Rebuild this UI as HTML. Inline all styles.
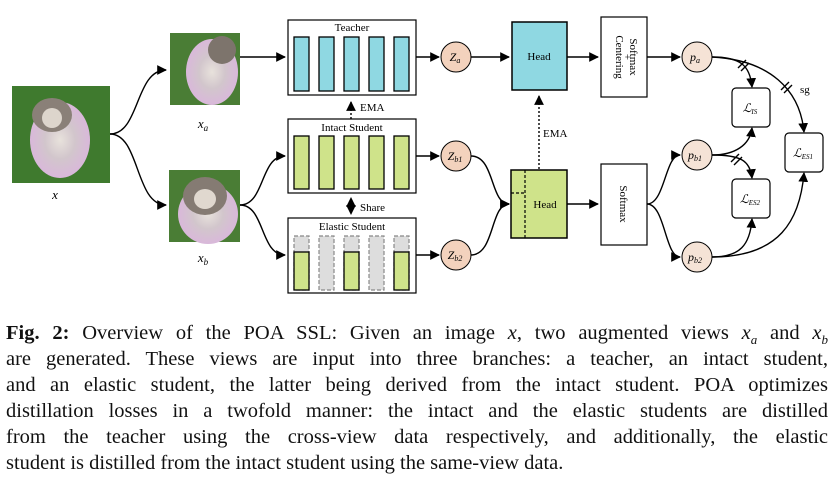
<!DOCTYPE html>
<html><head><meta charset="utf-8"><style>
body{margin:0;background:#fff;width:838px;height:480px;overflow:hidden;position:relative}
svg{position:absolute;left:0;top:0}
.cap{position:absolute;left:6px;width:822px;font-family:"Liberation Serif",serif;font-size:20.5px;color:#111;white-space:nowrap;text-align:justify;text-align-last:justify;line-height:26px}
.cap.last{text-align-last:left}
</style></head><body>
<svg width="838" height="310" viewBox="0 0 838 310" font-family="Liberation Serif, serif">
<defs>
<marker id="a" viewBox="0 0 10 10" refX="9" refY="5" markerWidth="7" markerHeight="7" orient="auto"><path d="M0,0L10,5L0,10z" fill="#000"/></marker>
<radialGradient id="dog"><stop offset="0" stop-color="#e8e2dc"/><stop offset="0.5" stop-color="#d2c6cc"/><stop offset="1" stop-color="#d9b8da"/></radialGradient>
</defs>
<rect x="12" y="86" width="98" height="97" fill="#3f7a2e"/>
<ellipse cx="60" cy="140" rx="30" ry="38" fill="url(#dog)"/>
<ellipse cx="52" cy="115" rx="20" ry="17" fill="#8a8078"/>
<ellipse cx="52" cy="118" rx="10" ry="10" fill="#ddd5cc"/>
<rect x="170" y="33" width="70" height="72" fill="#4a7d35"/>
<ellipse cx="212" cy="72" rx="26" ry="33" fill="url(#dog)"/>
<ellipse cx="222" cy="50" rx="14" ry="14" fill="#7d746c"/>
<rect x="169" y="170" width="71" height="72" fill="#4a7d35"/>
<ellipse cx="208" cy="214" rx="30" ry="30" fill="url(#dog)"/>
<ellipse cx="205" cy="196" rx="22" ry="19" fill="#857b73"/>
<ellipse cx="205" cy="199" rx="11" ry="10" fill="#e0d8cf"/>
<g font-style="italic" font-size="13" text-anchor="middle">
<text x="55" y="199">x</text><text x="203" y="128">x<tspan font-size="9" dy="3">a</tspan></text><text x="203" y="262">x<tspan font-size="9" dy="3">b</tspan></text></g>
<g fill="none" stroke="#000" stroke-width="1.4">
<path d="M110,134 C140,134 135,70 166,70" marker-end="url(#a)"/>
<path d="M110,134 C140,134 135,205 166,205" marker-end="url(#a)"/>
<path d="M240,57 L285,57" marker-end="url(#a)"/>
<path d="M240,205 C265,205 260,156 285,156" marker-end="url(#a)"/>
<path d="M240,205 C265,205 260,255 285,255" marker-end="url(#a)"/>
</g>
<g stroke="#000" stroke-width="1.2" fill="#fff">
<rect x="288" y="20" width="128" height="75"/>
<rect x="288" y="119" width="128" height="74"/>
<rect x="288" y="218" width="128" height="75"/>
</g>
<g font-size="11" text-anchor="middle"><text x="352" y="31">Teacher</text><text x="352" y="131">Intact Student</text><text x="352" y="230">Elastic Student</text></g>
<g stroke="#000" stroke-width="1.3" fill="#8fd8e2">
<rect x="294" y="37" width="15" height="54"/><rect x="319" y="37" width="15" height="54"/><rect x="344" y="37" width="15" height="54"/><rect x="369" y="37" width="15" height="54"/><rect x="394" y="37" width="15" height="54"/>
</g>
<g stroke="#000" stroke-width="1.3" fill="#cfe38a">
<rect x="294" y="136" width="15" height="53"/><rect x="319" y="136" width="15" height="53"/><rect x="344" y="136" width="15" height="53"/><rect x="369" y="136" width="15" height="53"/><rect x="394" y="136" width="15" height="53"/>
</g>
<g stroke="#888" stroke-width="1.2" stroke-dasharray="4,2" fill="#ddd">
<rect x="294" y="236" width="15" height="54"/><rect x="319" y="236" width="15" height="54"/><rect x="344" y="236" width="15" height="54"/><rect x="369" y="236" width="15" height="54"/><rect x="394" y="236" width="15" height="54"/>
</g>
<g stroke="#000" stroke-width="1.3" fill="#cfe38a">
<rect x="294" y="252" width="15" height="38"/><rect x="344" y="252" width="15" height="38"/><rect x="394" y="252" width="15" height="38"/>
</g>
<g stroke="#000" stroke-width="1.4" stroke-dasharray="2,2" fill="none">
<path d="M351,119 L351,102" marker-end="url(#a)"/>
<path d="M351,209 L351,198" marker-end="url(#a)"/>
<path d="M351,203 L351,214" marker-end="url(#a)"/>
<path d="M539,169 L539,96" marker-end="url(#a)"/>
</g>
<g font-size="11"><text x="360" y="111">EMA</text><text x="360" y="211">Share</text><text x="543" y="137">EMA</text></g>
<g fill="none" stroke="#000" stroke-width="1.4">
<path d="M416,57 L439,57" marker-end="url(#a)"/>
<path d="M416,156 L439,156" marker-end="url(#a)"/>
<path d="M416,255 L439,255" marker-end="url(#a)"/>
<path d="M471,57 L509,57" marker-end="url(#a)"/>
<path d="M471,156 C495,156 490,204 509,204" marker-end="url(#a)"/>
<path d="M471,255 C495,255 490,204 509,204" marker-end="url(#a)"/>
<path d="M567,57 L598,57" marker-end="url(#a)"/>
<path d="M567,204 L598,204" marker-end="url(#a)"/>
<path d="M647,57 L680,57" marker-end="url(#a)"/>
<path d="M647,204 C665,204 665,155 680,155" marker-end="url(#a)"/>
<path d="M647,204 C665,204 665,257 680,257" marker-end="url(#a)"/>
<path d="M712,57 C740,57 750,65 752,87" marker-end="url(#a)"/>
<path d="M712,57 C770,60 800,90 804,132" marker-end="url(#a)"/>
<path d="M712,155 C735,155 750,145 752,128" marker-end="url(#a)"/>
<path d="M712,155 C740,155 750,160 752,178" marker-end="url(#a)"/>
<path d="M712,257 C740,257 750,245 752,219" marker-end="url(#a)"/>
<path d="M712,257 C780,257 800,220 804,173" marker-end="url(#a)"/>
<path d="M738,68 l8,-8 M741,71 l8,-8 M781,90 l8,-8 M784,93 l8,-8 M731,162 l8,-8 M734,165 l8,-8"/>
</g>
<text x="800" y="93" font-size="11">sg</text>
<g stroke="#000" stroke-width="1" fill="#f3d2bd">
<circle cx="456" cy="57" r="15"/><circle cx="456" cy="156" r="15"/><circle cx="456" cy="255" r="15"/>
</g>
<g font-style="italic" font-size="12" text-anchor="middle"><text x="455" y="61">Z<tspan font-size="8" dy="2">a</tspan></text><text x="455" y="160">Z<tspan font-size="8" dy="2">b1</tspan></text><text x="455" y="259">Z<tspan font-size="8" dy="2">b2</tspan></text></g>
<rect x="512" y="22" width="55" height="68" fill="#8fd8e2" stroke="#000" stroke-width="1.5"/>
<text x="539" y="60" font-size="11" text-anchor="middle">Head</text>
<rect x="511" y="170" width="56" height="68" fill="#cfe38a" stroke="#000" stroke-width="1.5"/>
<path d="M525,170 L525,238 M511,193 L525,193" stroke="#000" stroke-width="1.2" stroke-dasharray="3,2"/>
<text x="545" y="208" font-size="11" text-anchor="middle">Head</text>
<g stroke="#000" stroke-width="1.2" fill="#fff"><rect x="601" y="17" width="46" height="80"/><rect x="601" y="164" width="46" height="81"/></g>
<g font-size="11" text-anchor="middle">
<text transform="translate(630,57) rotate(90)">Softmax</text>
<text transform="translate(624,57) rotate(90)">+</text>
<text transform="translate(616,57) rotate(90)">Centering</text>
<text transform="translate(620,204) rotate(90)">Softmax</text>
</g>
<g stroke="#000" stroke-width="1" fill="#f5e3d6">
<circle cx="697" cy="57" r="15"/><circle cx="697" cy="155" r="15"/><circle cx="697" cy="257" r="15"/>
</g>
<g font-style="italic" font-size="12" text-anchor="middle"><text x="695" y="61">p<tspan font-size="8" dy="2">a</tspan></text><text x="695" y="159">p<tspan font-size="8" dy="2">b1</tspan></text><text x="695" y="261">p<tspan font-size="8" dy="2">b2</tspan></text></g>
<g stroke="#000" stroke-width="1.2" fill="#fff">
<rect x="732" y="88" width="38" height="39" rx="4"/><rect x="785" y="133" width="38" height="39" rx="4"/><rect x="732" y="179" width="38" height="39" rx="4"/>
</g>
<g font-style="italic" font-size="12" text-anchor="middle"><text x="750" y="112">ℒ<tspan font-size="7" dy="2">IS</tspan></text><text x="803" y="157">ℒ<tspan font-size="7" dy="2">ES1</tspan></text><text x="750" y="203">ℒ<tspan font-size="7" dy="2">ES2</tspan></text></g>
</svg>
<div class="cap" style="top:320px"><b>Fig. 2:</b> Overview of the POA SSL: Given an image <i>x</i>, two augmented views <i>x<sub style="font-size:13px">a</sub></i> and <i>x<sub style="font-size:13px">b</sub></i></div>
<div class="cap" style="top:346px">are generated. These views are input into three branches: a teacher, an intact student,</div>
<div class="cap" style="top:372px">and an elastic student, the latter being derived from the intact student. POA optimizes</div>
<div class="cap" style="top:398px">distillation losses in a twofold manner: the intact and the elastic students are distilled</div>
<div class="cap" style="top:424px">from the teacher using the cross-view data respectively, and additionally, the elastic</div>
<div class="cap last" style="top:450px">student is distilled from the intact student using the same-view data.</div>
</body></html>
